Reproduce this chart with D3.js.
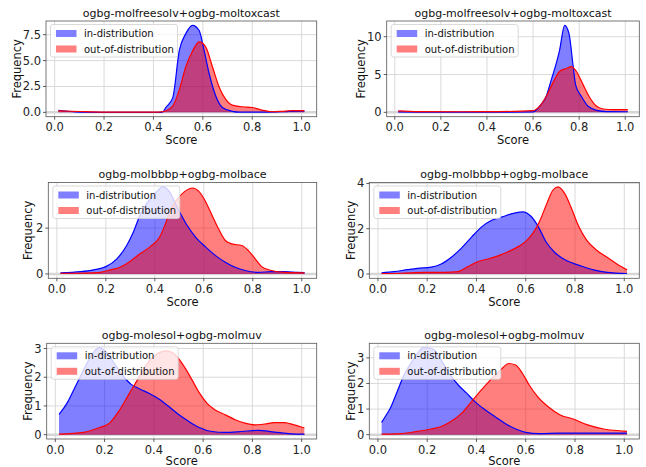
<!DOCTYPE html>
<html>
<head>
<meta charset="utf-8">
<script src="https://cdn.jsdelivr.net/npm/d3@7"></script>
<style>
  body { margin: 0; background: #fff; }
  svg { font-family: "DejaVu Sans", sans-serif; }
</style>
</head>
<body>
<svg id="chart" width="646" height="467"></svg>
<script>
// panel titles
const titles = [
  'ogbg-molfreesolv+ogbg-moltoxcast',
  'ogbg-molfreesolv+ogbg-moltoxcast',
  'ogbg-molbbbp+ogbg-molbace',
  'ogbg-molbbbp+ogbg-molbace',
  'ogbg-molesol+ogbg-molmuv',
  'ogbg-molesol+ogbg-molmuv'
];
const seriesNames = ['in-distribution', 'out-of-distribution'];
const xTicks = [0, 0.2, 0.4, 0.6, 0.8, 1.0];
const yTicks = [[0, 2.5, 5, 7.5], [0, 5, 10], [0, 2], [0, 2, 4], [0, 1, 2, 3], [0, 1, 2, 3]];

// panel 1
const s1In = [[0.015,0.2],[0.1,0.02],[0.2,0],[0.3,0],[0.42,0],[0.438,0.05],[0.45,0.47],[0.478,1.4],[0.505,6.0],[0.531,7.6],[0.558,8.4],[0.585,7.9],[0.605,6.0],[0.625,3.8],[0.652,1.6],[0.679,0.47],[0.719,0.1],[0.75,0.02],[0.85,0.02],[0.95,0.1],[1.011,0.15]];
const s1Out = [[0.015,0.15],[0.1,0.08],[0.2,0.02],[0.3,0.02],[0.42,0.02],[0.451,0.15],[0.478,0.6],[0.505,2.2],[0.531,4.4],[0.558,5.9],[0.585,6.8],[0.612,6.3],[0.639,4.4],[0.665,2.5],[0.692,1.27],[0.719,0.7],[0.759,0.54],[0.8,0.47],[0.839,0.22],[0.88,0.06],[0.92,0.1],[0.96,0.16],[1.011,0.16]];
// panel 2
const s2In = [[0.015,0.05],[0.2,0.03],[0.4,0.03],[0.6,0.05],[0.628,0.8],[0.657,2.1],[0.679,4.3],[0.701,6.5],[0.715,8.2],[0.737,11.5],[0.756,10.4],[0.774,6.1],[0.785,3.6],[0.81,2.1],[0.839,0.8],[0.876,0.26],[0.92,0.1],[1.011,0.08]];
const s2Out = [[0.015,0.2],[0.1,0.1],[0.3,0.08],[0.45,0.1],[0.6,0.22],[0.628,0.8],[0.657,2.1],[0.686,3.9],[0.715,5.4],[0.745,5.8],[0.766,6.05],[0.788,5.4],[0.818,3.6],[0.847,1.9],[0.876,0.8],[0.905,0.44],[0.949,0.35],[1.011,0.35]];
// panel 3
const s3In = [[0.015,0.05],[0.097,0.1],[0.15,0.18],[0.2,0.32],[0.245,0.66],[0.285,1.24],[0.312,1.82],[0.339,2.55],[0.366,3.07],[0.4,3.5],[0.433,3.8],[0.46,3.58],[0.487,3.0],[0.527,2.2],[0.567,1.6],[0.608,1.17],[0.648,0.8],[0.688,0.51],[0.728,0.29],[0.769,0.15],[0.823,0.07],[0.876,0.1],[0.93,0.1],[0.984,0.07],[1.011,0.06]];
const s3Out = [[0.015,0.03],[0.11,0.04],[0.177,0.07],[0.218,0.18],[0.258,0.29],[0.298,0.54],[0.339,0.88],[0.379,1.17],[0.419,1.6],[0.446,2.26],[0.466,2.85],[0.493,3.28],[0.52,3.58],[0.554,3.75],[0.58,3.6],[0.608,3.14],[0.634,2.55],[0.66,1.97],[0.688,1.46],[0.715,1.31],[0.755,1.24],[0.782,1.02],[0.81,0.66],[0.836,0.32],[0.876,0.15],[0.93,0.07],[1.011,0.05]];
// panel 4
const s4In = [[0.015,0.05],[0.065,0.1],[0.12,0.19],[0.16,0.25],[0.216,0.3],[0.257,0.44],[0.298,0.74],[0.339,1.14],[0.38,1.63],[0.42,2.07],[0.462,2.37],[0.504,2.52],[0.545,2.67],[0.587,2.74],[0.62,2.56],[0.648,2.15],[0.683,1.41],[0.717,0.96],[0.765,0.59],[0.82,0.37],[0.875,0.18],[0.93,0.07],[1.011,0.02]];
const s4Out = [[0.015,0.02],[0.092,0.03],[0.188,0.07],[0.27,0.07],[0.325,0.1],[0.366,0.33],[0.407,0.55],[0.449,0.67],[0.49,0.81],[0.53,0.99],[0.573,1.23],[0.6,1.44],[0.628,1.78],[0.655,2.3],[0.683,3.04],[0.71,3.7],[0.731,3.85],[0.758,3.56],[0.786,2.89],[0.813,2.15],[0.848,1.48],[0.889,1.04],[0.93,0.74],[0.97,0.44],[1.011,0.18]];
// panel 5
const s5In = [[0.015,0.71],[0.047,1.09],[0.074,1.55],[0.1,2.0],[0.127,2.46],[0.154,2.86],[0.18,3.03],[0.207,2.86],[0.241,2.46],[0.274,2.06],[0.308,1.75],[0.341,1.6],[0.382,1.43],[0.422,1.23],[0.462,0.97],[0.502,0.69],[0.542,0.46],[0.582,0.26],[0.636,0.11],[0.69,0.08],[0.756,0.11],[0.823,0.15],[0.89,0.09],[0.957,0.03],[1.011,0.02]];
const s5Out = [[0.015,0.02],[0.114,0.08],[0.18,0.25],[0.22,0.4],[0.261,0.86],[0.3,1.43],[0.328,1.83],[0.355,2.23],[0.382,2.58],[0.415,2.83],[0.448,2.92],[0.475,2.86],[0.502,2.63],[0.529,2.29],[0.556,1.89],[0.582,1.49],[0.616,1.09],[0.649,0.86],[0.69,0.69],[0.73,0.52],[0.77,0.4],[0.81,0.34],[0.85,0.37],[0.89,0.42],[0.93,0.42],[0.97,0.34],[1.011,0.23]];
// panel 6
const s6In = [[0.015,0.48],[0.03,0.71],[0.05,1.03],[0.078,1.68],[0.106,2.33],[0.133,2.78],[0.16,3.17],[0.184,3.4],[0.22,3.36],[0.257,2.91],[0.29,2.39],[0.326,1.94],[0.36,1.62],[0.394,1.29],[0.435,0.97],[0.477,0.69],[0.518,0.43],[0.56,0.22],[0.6,0.09],[0.655,0.04],[0.738,0.06],[0.848,0.06],[0.957,0.06],[1.011,0.06]];
const s6Out = [[0.015,0.02],[0.092,0.04],[0.16,0.13],[0.215,0.22],[0.257,0.32],[0.298,0.52],[0.34,0.84],[0.38,1.29],[0.42,1.75],[0.463,2.2],[0.497,2.52],[0.532,2.78],[0.559,2.72],[0.587,2.39],[0.614,1.94],[0.648,1.49],[0.69,1.1],[0.738,0.78],[0.793,0.61],[0.848,0.39],[0.916,0.22],[1.011,0.13]];

const panelsIn = [s1In, s2In, s3In, s4In, s5In, s6In];
const panelsOut = [s1Out, s2Out, s3Out, s4Out, s5Out, s6Out];

// plot boxes (left, right, top, bottom, ylabel x, tick format, xlabel offset)
const layout = [
  { l: 46,    r: 316.7, t: 21,    b: 116.7, yl: 21,    fmt: '.1f', xo: 27.5 },
  { l: 386.7, r: 639.3, t: 21,    b: 116.7, yl: 365,   fmt: 'd',   xo: 27.5 },
  { l: 48.3,  r: 316.7, t: 182.5, b: 278.3, yl: 32,    fmt: 'd',   xo: 27.5 },
  { l: 369.3, r: 639.3, t: 182.5, b: 278.3, yl: 354.5, fmt: 'd',   xo: 27.5 },
  { l: 46.7,  r: 316.7, t: 343.3, b: 439,   yl: 31.7,  fmt: 'd',   xo: 25.5 },
  { l: 369.3, r: 639.3, t: 343.3, b: 439,   yl: 355.3, fmt: 'd',   xo: 25.5 }
];

const colors = ['#0000ff', '#ff0000'];
const svg = d3.select('#chart');

layout.forEach((box, i) => {
  const series = [panelsIn[i], panelsOut[i]];
  const yMax = d3.max(series.flat(), d => d[1]);
  const x = d3.scaleLinear().domain([-0.035, 1.061]).range([box.l, box.r]);
  const y = d3.scaleLinear().domain([-0.05 * yMax, 1.05 * yMax]).range([box.b, box.t]);
  const g = svg.append('g');

  const clipId = 'clip' + i;
  g.append('clipPath').attr('id', clipId)
    .append('rect').attr('x', box.l).attr('y', box.t)
    .attr('width', box.r - box.l).attr('height', box.b - box.t);

  // grid
  g.selectAll('.gx').data(xTicks).enter().append('line')
    .attr('x1', d => x(d)).attr('x2', d => x(d))
    .attr('y1', box.t).attr('y2', box.b)
    .attr('stroke', '#d6d6d6').attr('stroke-width', 0.9);
  g.selectAll('.gy').data(yTicks[i]).enter().append('line')
    .attr('x1', box.l).attr('x2', box.r)
    .attr('y1', d => y(d)).attr('y2', d => y(d))
    .attr('stroke', '#d6d6d6').attr('stroke-width', d => d === 0 ? 2.5 : 0.9);

  const area = d3.area().x(d => x(d[0])).y0(y(0)).y1(d => y(d[1])).curve(d3.curveMonotoneX);
  const line = d3.line().x(d => x(d[0])).y(d => y(d[1])).curve(d3.curveMonotoneX);
  const plot = g.append('g').attr('clip-path', `url(#${clipId})`);
  series.forEach((s, k) => {
    plot.append('path').attr('d', area(s)).attr('fill', colors[k]).attr('fill-opacity', 0.5);
  });
  series.forEach((s, k) => {
    plot.append('path').attr('d', line(s)).attr('fill', 'none')
      .attr('stroke', colors[k]).attr('stroke-width', 1.2);
  });

  // frame
  g.append('rect').attr('x', box.l).attr('y', box.t)
    .attr('width', box.r - box.l).attr('height', box.b - box.t)
    .attr('fill', 'none').attr('stroke', '#555').attr('stroke-width', 0.8);

  // x ticks
  xTicks.forEach(v => {
    g.append('line').attr('x1', x(v)).attr('x2', x(v)).attr('y1', box.b).attr('y2', box.b + 3)
      .attr('stroke', '#333').attr('stroke-width', 0.8);
    g.append('text').attr('x', x(v)).attr('y', box.b + 14.5)
      .attr('text-anchor', 'middle').attr('font-size', 11.5).attr('fill', '#222')
      .text(d3.format('.1f')(v));
  });
  // y ticks
  yTicks[i].forEach(v => {
    g.append('line').attr('x1', box.l - 3).attr('x2', box.l).attr('y1', y(v)).attr('y2', y(v))
      .attr('stroke', '#333').attr('stroke-width', 0.8);
    g.append('text').attr('x', box.l - 5).attr('y', y(v)).attr('dy', '0.35em')
      .attr('text-anchor', 'end').attr('font-size', 11.5).attr('fill', '#222')
      .text(d3.format(box.fmt)(v));
  });

  // labels and title
  g.append('text').attr('x', (box.l + box.r) / 2).attr('y', box.t - 4.5)
    .attr('text-anchor', 'middle').attr('font-size', 11).attr('fill', '#111')
    .text(titles[i]);
  g.append('text').attr('x', (box.l + box.r) / 2).attr('y', box.b + box.xo)
    .attr('text-anchor', 'middle').attr('font-size', 11.5).attr('fill', '#111')
    .text('Score');
  g.append('text').attr('transform', `translate(${box.yl},${(box.t + box.b) / 2}) rotate(-90)`)
    .attr('text-anchor', 'middle').attr('font-size', 11.5).attr('fill', '#111')
    .text('Frequency');

  // legend
  const lg = g.append('g').attr('transform', `translate(${box.l + 4.5},${box.t + 3.5})`);
  lg.append('rect').attr('width', 127).attr('height', 32.5).attr('rx', 2.5)
    .attr('fill', '#fff').attr('fill-opacity', 0.8)
    .attr('stroke', '#d0d0d0').attr('stroke-width', 0.8);
  seriesNames.forEach((name, k) => {
    lg.append('rect').attr('x', 5.5).attr('y', 5.5 + k * 15.5).attr('width', 20.5).attr('height', 7)
      .attr('fill', colors[k]).attr('fill-opacity', 0.5);
    lg.append('text').attr('x', 33.5).attr('y', 12.5 + k * 15.5)
      .attr('font-size', 10).attr('fill', '#111').text(name);
  });
});
</script>
</body>
</html>
